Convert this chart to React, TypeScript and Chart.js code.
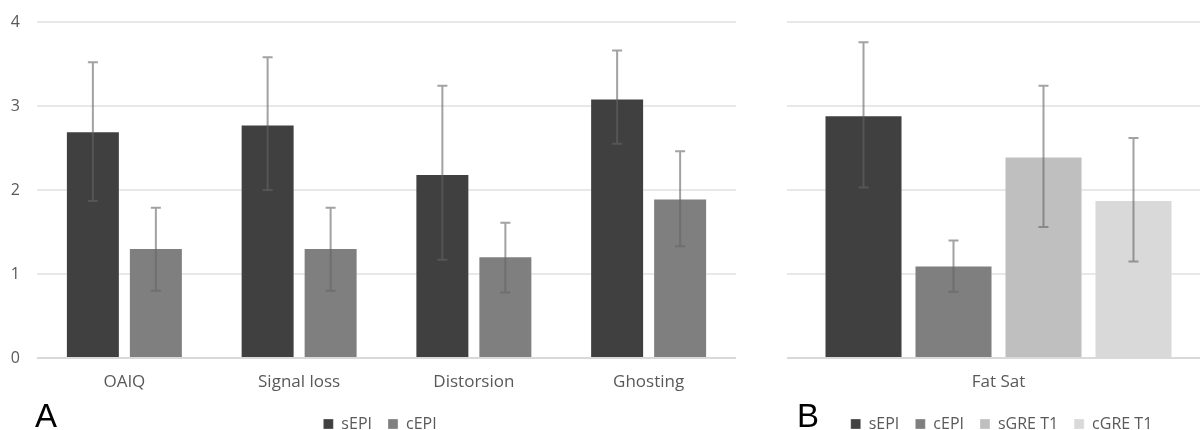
import React, { useEffect, useRef } from "react";
import { Chart, registerables } from "chart.js";

Chart.register(...registerables);

// ---- Data ----
const leftCategories = ["OAIQ", "Signal loss", "Distorsion", "Ghosting"];
const leftSeriesNames = ["sEPI", "cEPI"];
const leftSEPI = [2.7, 2.78, 2.19, 3.09];
const leftCEPI = [1.31, 1.31, 1.21, 1.9];
const leftSEPILow = [1.87, 2.0, 1.17, 2.55];
const leftSEPIHigh = [3.52, 3.58, 3.24, 3.66];
const leftCEPILow = [0.8, 0.8, 0.78, 1.33];
const leftCEPIHigh = [1.79, 1.79, 1.61, 2.46];

const rightCategories = ["Fat Sat"];
const rightSeriesNames = ["sEPI", "cEPI", "sGRE T1", "cGRE T1"];
const rightValues = [2.89, 1.1, 2.4, 1.88];
const rightLow = [2.03, 0.79, 1.56, 1.15];
const rightHigh = [3.76, 1.4, 3.24, 2.62];

const yTicks = [0, 1, 2, 3, 4];
const seriesColors = ["#404040", "#7f7f7f", "#bfbfbf", "#d9d9d9"];

const FONT = "'Open Sans', 'DejaVu Sans', sans-serif";
const TEXT = "#595959";

const errorBarPlugin = {
  id: "errorBars",
  afterDatasetsDraw(chart: any) {
    const ctx = chart.ctx;
    const yScale = chart.scales.y;
    chart.data.datasets.forEach((ds: any, di: number) => {
      const meta = chart.getDatasetMeta(di);
      if (!ds.errLow || !ds.errHigh) return;
      meta.data.forEach((el: any, i: number) => {
        const x = el.x;
        const yl = yScale.getPixelForValue(ds.errLow[i]);
        const yh = yScale.getPixelForValue(ds.errHigh[i]);
        ctx.save();
        ctx.strokeStyle = "rgba(100,100,100,0.6)";
        ctx.lineWidth = 2;
        ctx.beginPath();
        ctx.moveTo(x, yl);
        ctx.lineTo(x, yh);
        ctx.moveTo(x - 5, yl);
        ctx.lineTo(x + 5, yl);
        ctx.moveTo(x - 5, yh);
        ctx.lineTo(x + 5, yh);
        ctx.stroke();
        ctx.restore();
      });
    });
  },
};

// shifts the legend box horizontally after layout (to centre it as in the reference)
const legendShiftPlugin = {
  id: "legendShift",
  afterLayout(chart: any, _args: any, opts: any) {
    const dx = (opts && opts.dx) || 0;
    if (chart.legend && dx) {
      chart.legend.left += dx;
      chart.legend.right += dx;
    }
  },
};

function makeOptions(
  yAxisWidth: number,
  showYTicks: boolean,
  padding: any,
  catPct: number,
  barPct: number,
  legendDx: number
) {
  return {
    responsive: false,
    animation: false,
    maintainAspectRatio: false,
    layout: { padding },
    datasets: { bar: { categoryPercentage: catPct, barPercentage: barPct } },
    plugins: {
      tooltip: { enabled: false },
      legendShift: { dx: legendDx },
      legend: {
        position: "bottom",
        labels: {
          boxWidth: 10,
          boxHeight: 10,
          padding: 16,
          color: TEXT,
          font: { family: FONT, size: 16 },
        },
      },
    },
    scales: {
      x: {
        grid: { display: false, drawTicks: false },
        border: { display: false },
        ticks: { color: TEXT, font: { family: FONT, size: 17 }, padding: 14 },
        afterFit: (s: any) => {
          s.height = 42;
          s.paddingLeft = 0;
          s.paddingRight = 0;
        },
      },
      y: {
        min: 0,
        max: 4,
        afterBuildTicks: (s: any) => {
          s.ticks = yTicks.map((v) => ({ value: v }));
        },
        grid: {
          drawTicks: false,
          color: (c: any) => (c.tick && c.tick.value === 0 ? "#d9d9d9" : "#e8e8e8"),
          lineWidth: 2,
        },
        border: { display: false },
        ticks: {
          display: showYTicks,
          color: TEXT,
          font: { family: FONT, size: 16 },
          padding: 17,
        },
        afterFit: (s: any) => {
          s.width = yAxisWidth;
          s.paddingTop = 0;
          s.paddingBottom = 0;
        },
      },
    },
  };
}

function LeftChart() {
  const ref = useRef<HTMLCanvasElement>(null);
  useEffect(() => {
    const chart = new Chart(ref.current as HTMLCanvasElement, {
      type: "bar",
      data: {
        labels: leftCategories,
        datasets: [
          {
            label: leftSeriesNames[0],
            data: leftSEPI,
            backgroundColor: seriesColors[0],
            borderColor: "rgba(255,255,255,0.3)",
            borderWidth: 1,
            errLow: leftSEPILow,
            errHigh: leftSEPIHigh,
          } as any,
          {
            label: leftSeriesNames[1],
            data: leftCEPI,
            backgroundColor: seriesColors[1],
            borderColor: "rgba(255,255,255,0.3)",
            borderWidth: 1,
            errLow: leftCEPILow,
            errHigh: leftCEPIHigh,
          } as any,
        ],
      },
      options: makeOptions(37, true, { top: 22, left: 0, right: 9, bottom: 3 }, 0.721, 0.857, 12) as any,
      plugins: [errorBarPlugin, legendShiftPlugin],
    });
    return () => chart.destroy();
  }, []);
  return (
    <canvas
      ref={ref}
      width={745}
      height={445}
      style={{ position: "absolute", left: 0, top: 0, width: 745, height: 445 }}
    />
  );
}

function RightChart() {
  const ref = useRef<HTMLCanvasElement>(null);
  useEffect(() => {
    const chart = new Chart(ref.current as HTMLCanvasElement, {
      type: "bar",
      data: {
        labels: rightCategories,
        datasets: rightSeriesNames.map((name, i) => ({
          label: name,
          data: [rightValues[i]],
          backgroundColor: seriesColors[i],
          borderColor: "rgba(255,255,255,0.3)",
          borderWidth: 1,
          errLow: [rightLow[i]],
          errHigh: [rightHigh[i]],
        })) as any,
      },
      options: makeOptions(0, false, { top: 22, left: 12, right: 15, bottom: 3 }, 0.851, 0.867, 3) as any,
      plugins: [errorBarPlugin, legendShiftPlugin],
    });
    return () => chart.destroy();
  }, []);
  return (
    <canvas
      ref={ref}
      width={450}
      height={445}
      style={{ position: "absolute", left: 775, top: 0, width: 450, height: 445 }}
    />
  );
}

const letterStyle: React.CSSProperties = {
  position: "absolute",
  top: 399,
  fontFamily: "'Liberation Sans', Arial, sans-serif",
  fontSize: 33,
  lineHeight: "34px",
  color: "#000",
};

export default function App() {
  return (
    <div
      style={{
        position: "fixed",
        left: 0,
        top: 0,
        width: 1200,
        height: 430,
        overflow: "hidden",
        background: "#fff",
      }}
    >
      <LeftChart />
      <RightChart />
      <div style={{ ...letterStyle, left: 35 }}>A</div>
      <div style={{ ...letterStyle, left: 797 }}>B</div>
    </div>
  );
}
